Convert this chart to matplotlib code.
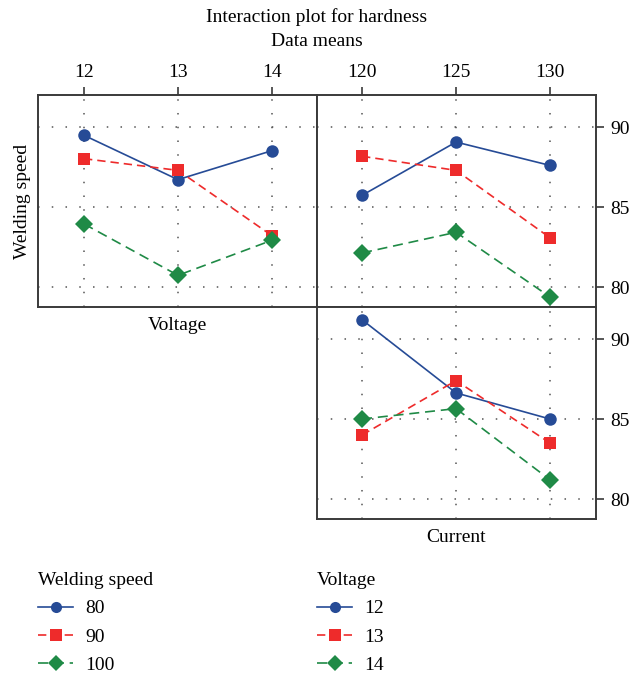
import matplotlib
matplotlib.use("Agg")
import matplotlib.pyplot as plt
from matplotlib.lines import Line2D

plt.rcParams['font.family'] = ['Liberation Serif', 'DejaVu Serif']

voltage = [12, 13, 14]
current = [120, 125, 130]
speed_levels = ["80", "90", "100"]
voltage_levels = ["12", "13", "14"]

# Hardness means: welding speed (rows) vs voltage
speed_by_voltage = [
    [89.48, 86.71, 88.52],
    [88.02, 87.29, 83.21],
    [83.94, 80.73, 82.92],
]
# Hardness means: welding speed (rows) vs current
speed_by_current = [
    [85.73, 89.06, 87.60],
    [88.17, 87.29, 83.08],
    [82.13, 83.42, 79.38],
]
# Hardness means: voltage (rows) vs current
voltage_by_current = [
    [91.20, 86.63, 85.00],
    [84.00, 87.40, 83.50],
    [85.00, 85.65, 81.20],
]

y_ticks = [80, 85, 90]
colors = ["#264b96", "#ee2b2b", "#1f8a46"]
markers = ["o", "s", "D"]
dashes = [None, (5, 3), (6, 3.5)]
FS = 14

fig = plt.figure(figsize=(6.39, 6.73), dpi=100)

W, H = 639, 673
def box(x0, y0, x1, y1):
    return [x0 / W, 1 - y1 / H, (x1 - x0) / W, (y1 - y0) / H]

ax_v = fig.add_axes(box(38, 95, 317, 307))
ax_c = fig.add_axes(box(317, 95, 596, 307))
ax_b = fig.add_axes(box(317, 307, 596, 519))

frame_color = "#3a3a3a"
grid_kw = dict(color="#555555", lw=1.1, linestyle=(0, (1, 8)), zorder=0)

def draw(ax, xs, rows, xlim):
    ax.set_xlim(*xlim)
    ax.set_ylim(78.75, 92.0)
    for x in xs:
        ax.axvline(x, **grid_kw)
    for y in y_ticks:
        ax.axhline(y, **grid_kw)
    for i, vals in enumerate(rows):
        ln, = ax.plot(xs, vals, color=colors[i], marker=markers[i],
                      markersize=9 if markers[i] != "D" else 9.5,
                      lw=1.2, markeredgewidth=0, zorder=3)
        if dashes[i] is not None:
            ln.set_dashes(dashes[i])
    for s in ax.spines.values():
        s.set_color(frame_color)
        s.set_linewidth(1.4)

draw(ax_v, voltage, speed_by_voltage, (11.51, 14.48))
draw(ax_c, current, speed_by_current, (117.6, 132.45))
draw(ax_b, current, voltage_by_current, (117.6, 132.45))

tick_kw = dict(labelsize=FS, length=6, width=1.2, color=frame_color, pad=4)

# Top panels: x tick labels along the top
for ax, xs in ((ax_v, voltage), (ax_c, current)):
    ax.xaxis.tick_top()
    ax.set_xticks(xs)
    ax.set_xticklabels([str(v) for v in xs])
    ax.tick_params(axis="x", **tick_kw)

ax_b.set_xticks([])

# Left panel: no y tick labels
ax_v.set_yticks([])
ax_v.set_ylabel("Welding speed", fontsize=FS, labelpad=5)
ax_v.set_xlabel("Voltage", fontsize=FS, labelpad=7)

# Right panels: y ticks on the right
for ax in (ax_c, ax_b):
    ax.yaxis.tick_right()
    ax.set_yticks(y_ticks)
    ax.set_yticklabels([str(v) for v in y_ticks])
    ax.tick_params(axis="y", **tick_kw)
ax_c.tick_params(axis="x", bottom=False)
ax_b.set_xlabel("Current", fontsize=FS, labelpad=7)

fig.text(317 / W, 1 - 17 / H, "Interaction plot for hardness",
         ha="center", va="center", fontsize=FS)
fig.text(317 / W, 1 - 42 / H, "Data means", ha="center", va="center", fontsize=FS)

def handles():
    hs = []
    for i in range(3):
        h = Line2D([], [], color=colors[i], marker=markers[i], markersize=8,
                   lw=1.2, markeredgewidth=0)
        if dashes[i] is not None:
            h.set_dashes(dashes[i])
        hs.append(h)
    return hs

leg_kw = dict(frameon=False, fontsize=FS, title_fontsize=FS, handlelength=1.8,
              handletextpad=0.65, labelspacing=0.55, alignment="left",
              borderaxespad=0, borderpad=0)
fig.legend(handles(), speed_levels, title="Welding speed",
           loc="upper left", bbox_to_anchor=(38 / W, 1 - 572 / H), **leg_kw)
fig.legend(handles(), voltage_levels, title="Voltage",
           loc="upper left", bbox_to_anchor=(317 / W, 1 - 572 / H), **leg_kw)

fig.savefig("out.png", dpi=100)
